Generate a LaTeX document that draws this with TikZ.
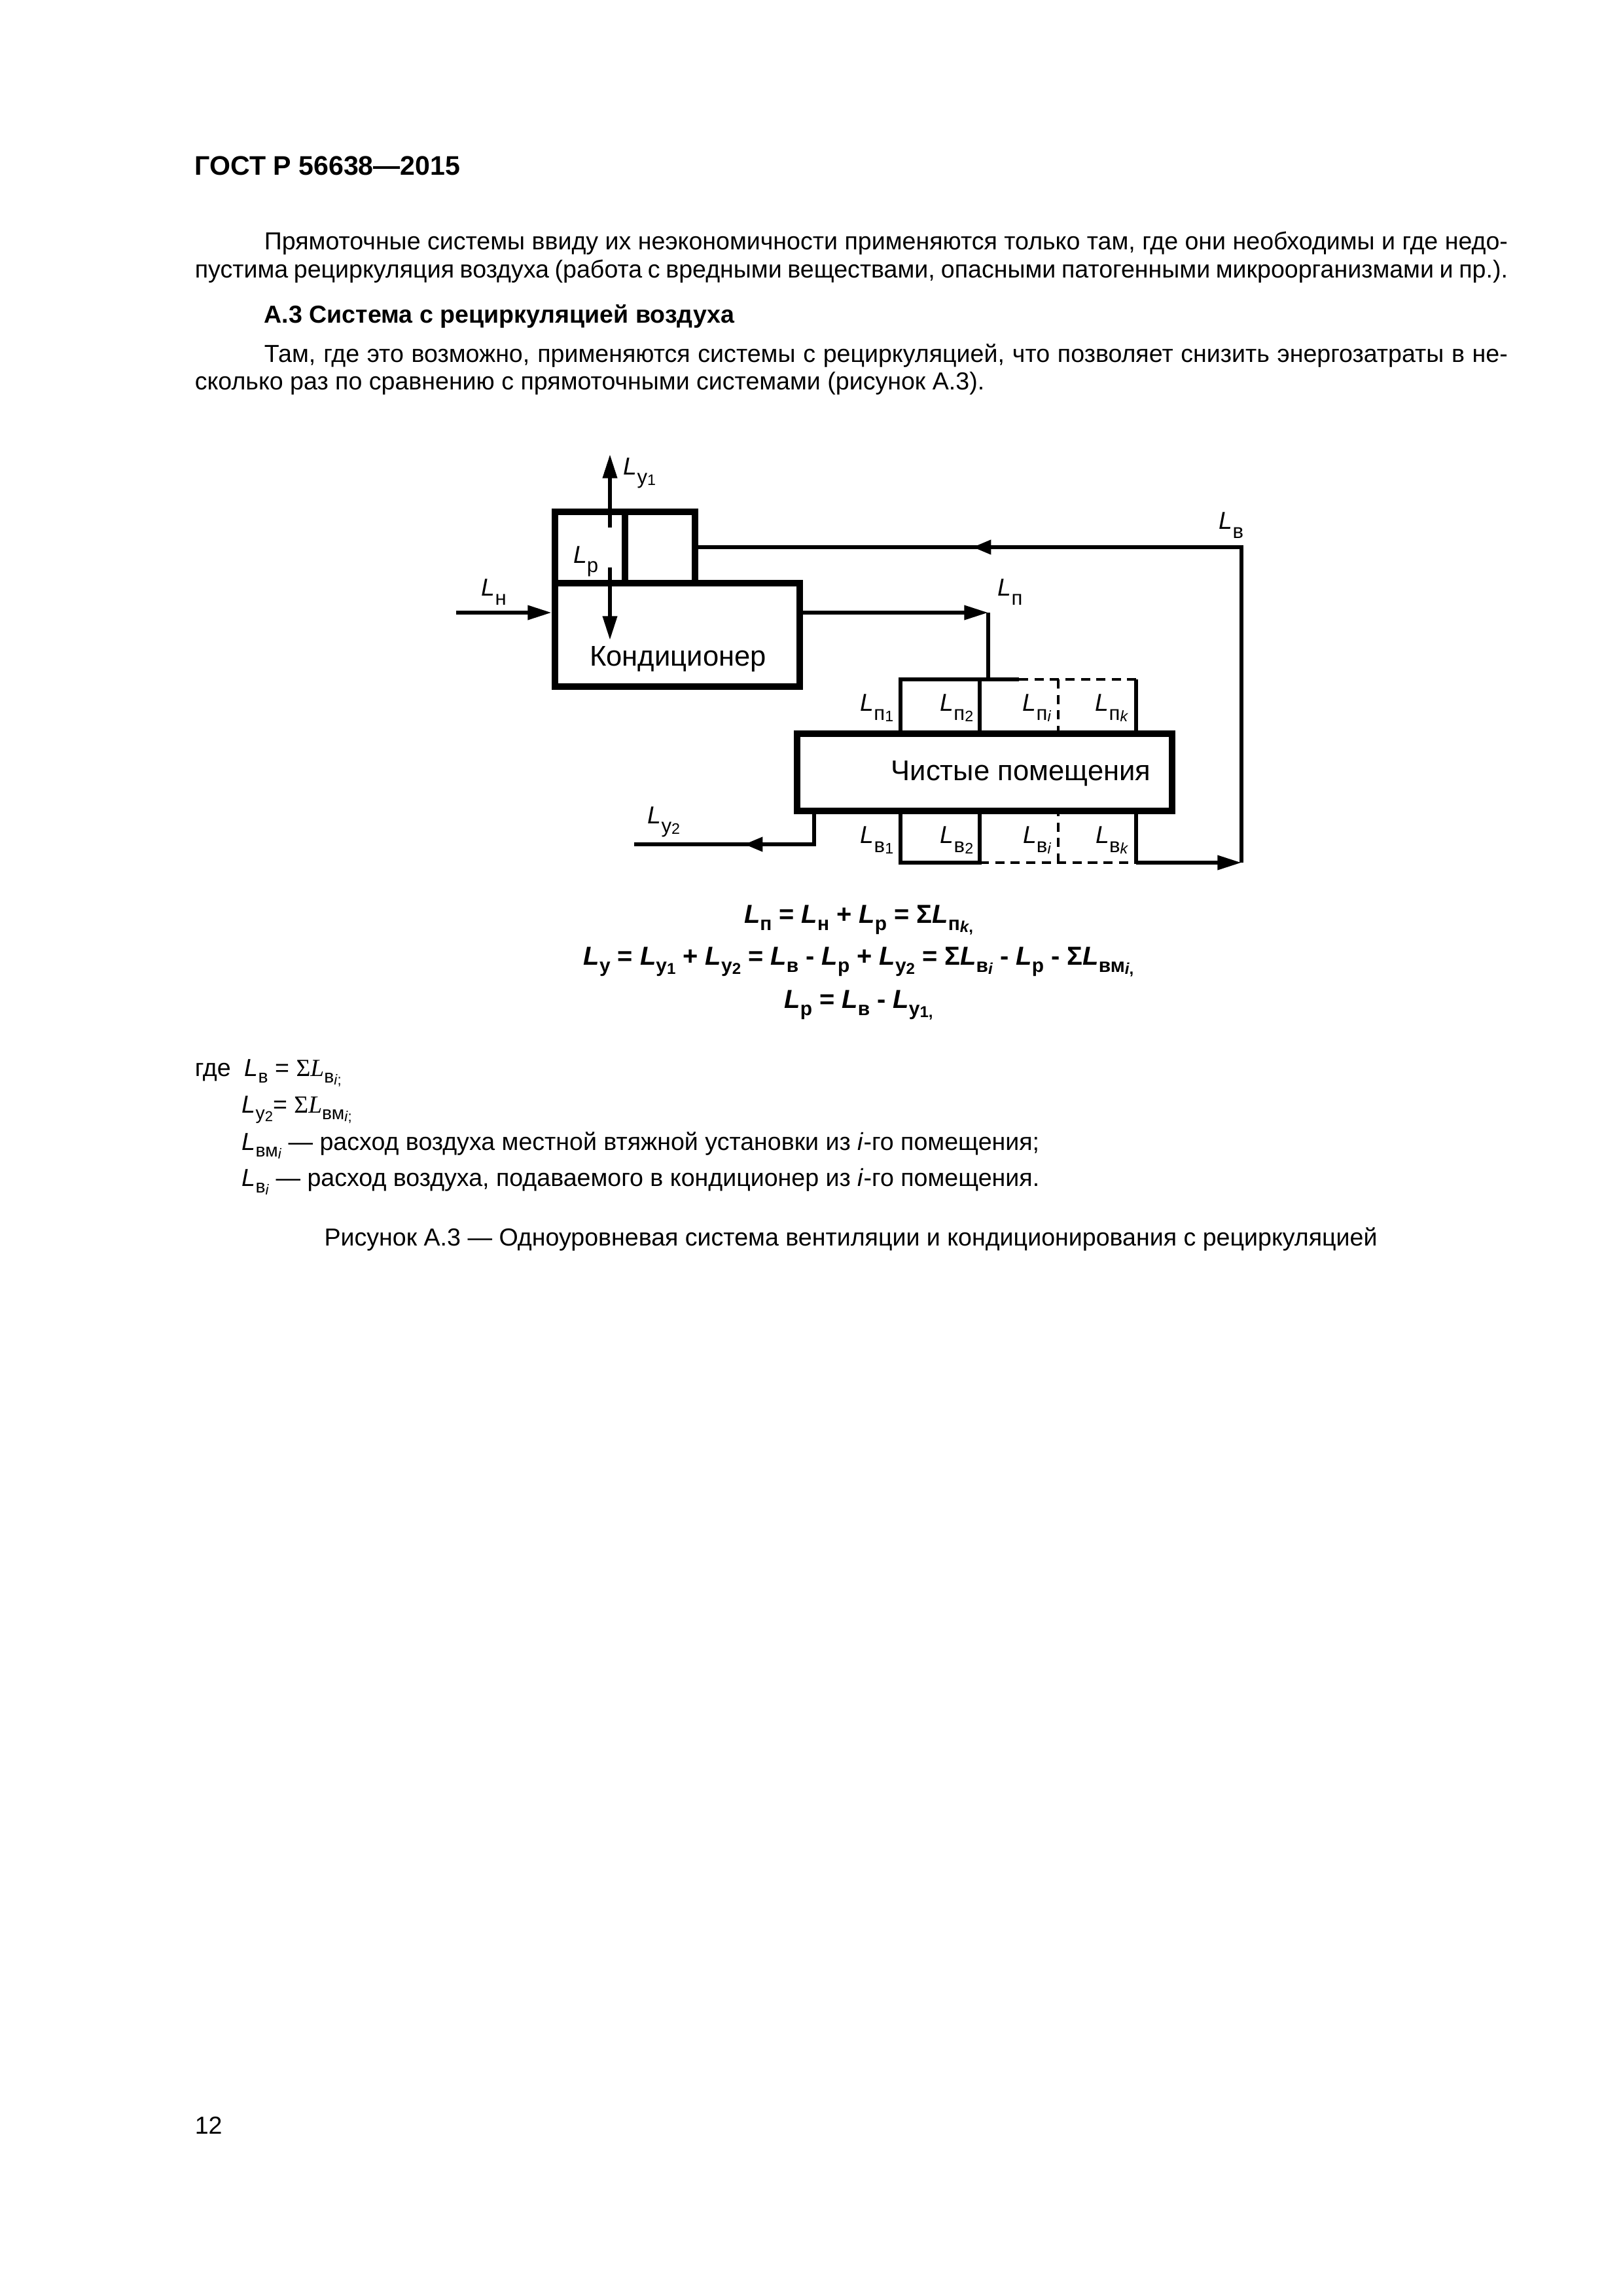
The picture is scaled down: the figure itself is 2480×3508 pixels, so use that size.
\documentclass[tikz,border=0pt]{standalone}
\usepackage{fontspec}
\setmainfont{Liberation Sans}
\newfontfamily\serifsig{Liberation Serif}
\usetikzlibrary{arrows.meta}
\newcommand{\pxu}{0.0846667mm}
% base glyph, sub drop, sub size, subsub drop, subsub size, sub text, subsub text
\newcommand{\Lgen}[7]{#1\raisebox{#2}{\fontsize{#3}{#3}\selectfont #6\raisebox{#4}{\fontsize{#5}{#5}\selectfont #7}}}
\newcommand{\Ld}[2]{\Lgen{\textit{L}}{-3.5pt}{7.5}{-0.5pt}{5.6}{#1}{#2}}
\newcommand{\Le}[2]{\Lgen{\textit{L}}{-2.8pt}{7.2}{-0.6pt}{5.8}{#1}{#2}}
\newcommand{\Lg}[2]{\Lgen{\textit{L}}{-2.6pt}{6.8}{-0.6pt}{5.3}{#1}{#2}}
\newcommand{\Lgs}[2]{\Lgen{{\serifsig Σ\textit{L}}}{-2.6pt}{6.8}{-0.6pt}{5.3}{#1}{#2}}
\tikzset{
  thickln/.style={line width=0.87mm},
  thinln/.style={line width=0.51mm, line join=miter},
  dashln/.style={line width=0.38mm, dash pattern=on 1.2mm off 0.8mm},
  endarrow/.style={-{Triangle[length=3.1mm,width=1.8mm]}},
  midarrow/.style={-{Triangle[length=2.4mm,width=1.8mm]}},
  boxnode/.style={draw, thickln, inner sep=0},
  lbl/.style={inner sep=0, font=\fontsize{9}{10}\selectfont},
  boxtext/.style={inner sep=0, anchor=base, font=\fontsize{10.5}{12}\selectfont},
  body/.style={inner sep=0, anchor=base west, font=\fontsize{9.05}{11}\selectfont},
  eqn/.style={inner sep=0, anchor=base, font=\bfseries\fontsize{9.6}{11}\selectfont},
}
\begin{document}
\begin{tikzpicture}[x=0.0846667mm, y=-0.0846667mm]
\useasboundingbox[fill=white] (0,0) rectangle (2480,3508);

% ---- page text ----
\node[body, font=\bfseries\fontsize{9.9}{12}\selectfont] (gost) at (297,267) {ГОСТ Р 56638—2015};
\node[body] (p1a) at (403,381) {\makebox[160.87mm][s]{Прямоточные системы ввиду их неэкономичности применяются только там, где они необходимы и где недо-}};
\node[body] (p1b) at (297,424) {\makebox[169.84mm][s]{пустима рециркуляция воздуха (работа с вредными веществами, опасными патогенными микроорганизмами и пр.).}};
\node[body, font=\bfseries\fontsize{9.05}{11}\selectfont] (sec) at (403,493) {А.3 Система с рециркуляцией воздуха};
\node[body] (p2a) at (403,553) {\makebox[160.87mm][s]{Там, где это возможно, применяются системы с рециркуляцией, что позволяет снизить энергозатраты в не-}};
\node[body] (p2b) at (297,595) {сколько раз по сравнению с прямоточными системами (рисунок А.3).};

% ---- boxes ----
\node[boxnode, minimum width=214*\pxu, minimum height=109*\pxu] (mix) at (955,836.5) {};
\node[boxnode, minimum width=374*\pxu, minimum height=158*\pxu] (cond) at (1035,970) {};
\node[boxnode, minimum width=573*\pxu, minimum height=118*\pxu] (rooms) at (1504.5,1180) {};
\draw[thickln] (mix.north) -- (mix.south);
\node[boxtext] (condtxt) at (1036,1017) {Кондиционер};
\node[boxtext] (roomtxt) at (1560,1192) {Чистые помещения};

% ---- coordinates ----
\coordinate (lnstart) at (697,936);
\coordinate (lpcorner) at (1510,936);
\coordinate (vtop) at (932,694);
\coordinate (stubend) at (932,806);
\coordinate (lrtop) at (932,867);
\coordinate (lrtip) at (932,978);
\coordinate (lvcorner) at (1897,836);
\coordinate (lvbot) at (1897,1318);
\coordinate (lvarr) at (1486,836);
\coordinate (ly2corner) at (1244,1290);
\coordinate (ly2end) at (969,1290);
\coordinate (ly2arr) at (1137,1290);
\coordinate (ut1) at (1376,1038);
\coordinate (ut2) at (1497,1038);
\coordinate (uti) at (1617,1038);
\coordinate (utk) at (1736,1038);
\coordinate (utsplit) at (1557,1038);
\coordinate (lb1) at (1376,1318);
\coordinate (lb2) at (1497,1318);
\coordinate (lbi) at (1617,1318);
\coordinate (lbk) at (1736,1318);

% ---- connectors ----
\draw[thinln, endarrow] (lnstart) -- (lnstart -| cond.west);
\draw[thinln, endarrow] (cond.east |- lpcorner) -- (lpcorner);
\draw[thinln] (lpcorner) -- (lpcorner |- ut1);
\draw[thinln, endarrow] (stubend) -- (vtop);
\draw[thinln, endarrow] (lrtop) -- (lrtip);
\draw[thinln] (mix.east |- lvcorner) -- (lvcorner) -- (lvbot);
\draw[thinln, midarrow] ([xshift=30*\pxu]lvarr) -- (lvarr);
\draw[thinln, endarrow] (lbk) -- (lvbot);
\draw[thinln] (ly2corner |- rooms.south) -- (ly2corner) -- (ly2end);
\draw[thinln, midarrow] ([xshift=30*\pxu]ly2arr) -- (ly2arr);

% upper room cells
\draw[thinln] (ut1 |- rooms.north) -- (ut1) -- (utsplit);
\draw[dashln] (utsplit) -- (utk);
\draw[thinln] (utk) -- (utk |- rooms.north);
\draw[thinln] (ut2) -- (ut2 |- rooms.north);
\draw[dashln] (uti) -- (uti |- rooms.north);
% lower room cells
\draw[thinln] (lb1 |- rooms.south) -- (lb1) -- (lb2) -- (lb2 |- rooms.south);
\draw[dashln] (lb2) -- (lbk);
\draw[dashln] (lbi) -- (lbi |- rooms.south);
\draw[thinln] (lbk |- rooms.south) -- (lbk);

% ---- labels ----
\node[lbl, anchor=base west] (lLy1) at (952,725) {\Ld{у}{1}};
\node[lbl, anchor=base east] (lLr) at (915,860) {\Ld{р}{}};
\node[lbl, anchor=base west] (lLn) at (735,910) {\Ld{н}{}};
\node[lbl, anchor=base west] (lLp) at (1524,910) {\Ld{п}{}};
\node[lbl, anchor=base west] (lLv) at (1862,808) {\Ld{в}{}};
\node[lbl, anchor=base west] (lLy2) at (989,1258) {\Ld{у}{2}};
\node[lbl, anchor=base east] (lp1) at (1366,1086) {\Ld{п}{1}};
\node[lbl, anchor=base east] (lp2) at (1488,1086) {\Ld{п}{2}};
\node[lbl, anchor=base east] (lpi) at (1607,1086) {\Ld{п}{\textit{i}}};
\node[lbl, anchor=base east] (lpk) at (1725,1086) {\Ld{п}{\textit{k}}};
\node[lbl, anchor=base east] (lv1) at (1366,1288) {\Ld{в}{1}};
\node[lbl, anchor=base east] (lv2) at (1488,1288) {\Ld{в}{2}};
\node[lbl, anchor=base east] (lvi) at (1607,1288) {\Ld{в}{\textit{i}}};
\node[lbl, anchor=base east] (lvk) at (1725,1288) {\Ld{в}{\textit{k}}};

% ---- equations ----
\node[eqn] (eq1) at (1312,1410) {\Le{п}{} = \Le{н}{} + \Le{р}{} = Σ\Le{п}{\textit{k},}};
\node[eqn] (eq2) at (1312,1474) {\Le{у}{} = \Le{у}{1} + \Le{у}{2} = \Le{в}{} - \Le{р}{} + \Le{у}{2} = Σ\Le{в}{\textit{i}} - \Le{р}{} - Σ\Le{вм}{\textit{i},}};
\node[eqn] (eq3) at (1312,1540) {\Le{р}{} = \Le{в}{} - \Le{у}{1,}};

% ---- legend ----
\node[body] (gde) at (297,1644) {где};
\node[body] (leg1) at (373,1644) {\Lg{в}{} = \Lgs{в}{\textit{i};}};
\node[body] (leg2) at (369,1700) {\Lg{у}{2}= \Lgs{вм}{\textit{i};}};
\node[body] (leg3) at (369,1757) {\Lg{вм}{\textit{i}} — расход воздуха местной втяжной установки из \textit{i}-го помещения;};
\node[body] (leg4) at (369,1812) {\Lg{в}{\textit{i}} — расход воздуха, подаваемого в кондиционер из \textit{i}-го помещения.};
\node[body, anchor=base] (cap) at (1300,1903) {Рисунок А.3 — Одноуровневая система вентиляции и кондиционирования с рециркуляцией};
\node[body] (pg) at (297,3260) {12};
\end{tikzpicture}
\end{document}
